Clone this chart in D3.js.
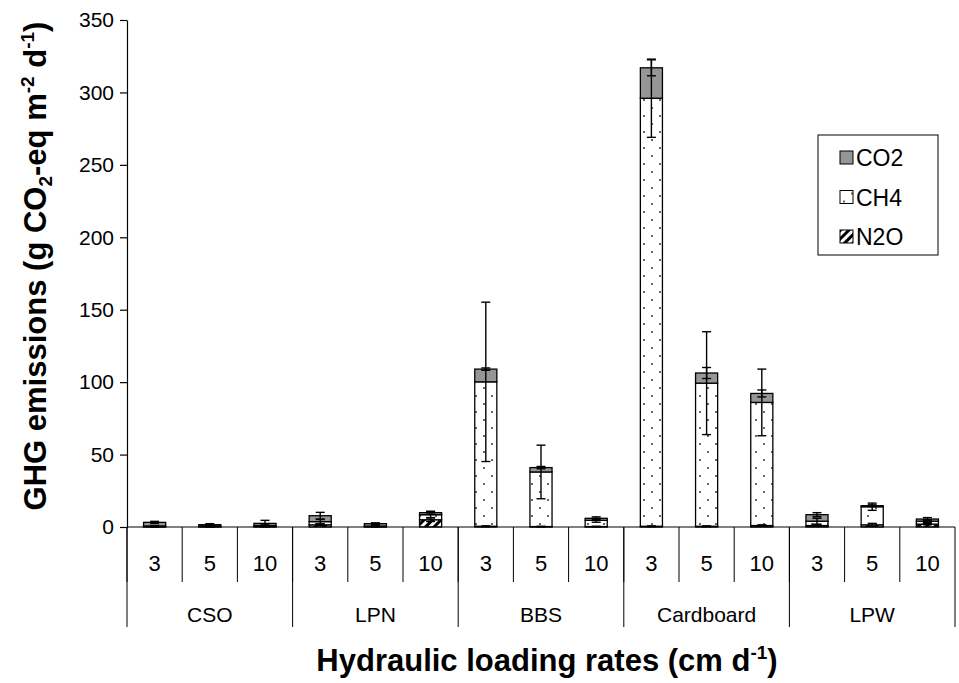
<!DOCTYPE html>
<html>
<head>
<meta charset="utf-8">
<script src="https://cdn.jsdelivr.net/npm/d3@7"></script>
<style>
  body { margin: 0; background: #fff; }
  text { font-family: Arial, "Liberation Sans", sans-serif; fill: #000; }
</style>
</head>
<body>
<script>
// categories
var groups = ["CSO", "LPN", "BBS", "Cardboard", "LPW"];
var rates = ["3", "5", "10"];

// stacked values, one per bar (group x rate), bottom to top: N2O, CH4, CO2
var n2o = [0.2, 0.2, 0.3, 1.5, 0.2, 5.0, 0.5, 0.3, 0.3, 0.5, 0.5, 1.0, 1.0, 1.5, 2.0];
var ch4 = [0.5, 0.4, 0.7, 2.2, 0.4, 3.5, 99.7, 37.7, 4.3, 295.5, 98.8, 85.0, 3.0, 12.5, 2.0];
var co2 = [2.5, 1.0, 1.5, 4.1, 1.7, 1.4, 8.8, 3.0, 1.4, 21.0, 7.0, 6.2, 4.5, 0.7, 1.5];

// error bars (sd) drawn at each segment top
var n2oErr = [0.1, 0.1, 0.2, 0.5, 0.1, 1.2, 0.3, 0.2, 0.2, 0.3, 0.3, 0.5, 0.4, 1.0, 0.5];
var ch4Err = [0.3, 0.2, 0.5, 1.5, 0.2, 2.0, 55.0, 18.5, 1.3, 27.0, 35.5, 23.0, 2.0, 2.5, 1.0];
var co2Err = [0.7, 0.7, 2.1, 2.3, 0.6, 1.0, 0.8, 0.8, 1.0, 5.5, 3.8, 2.4, 1.4, 0.6, 1.0];

var yTicks = [0, 50, 100, 150, 200, 250, 300, 350];
var seriesNames = ["CO2", "CH4", "N2O"];

function main() {
    var width = 959;
    var height = 683;
    var m = { left: 127, right: 955, top: 20, bottom: 527 };

    var svg = d3.select("body").append("svg")
        .attr("width", width)
        .attr("height", height);

    // patterns
    var defs = svg.append("defs");
    var dots = defs.append("pattern").attr("id", "dots")
        .attr("patternUnits", "userSpaceOnUse")
        .attr("width", 16).attr("height", 16);
    dots.append("rect").attr("width", 16).attr("height", 16).attr("fill", "#fff");
    dots.append("circle").attr("cx", 4).attr("cy", 4).attr("r", 1.1).attr("fill", "#444");
    dots.append("circle").attr("cx", 12).attr("cy", 12).attr("r", 1.1).attr("fill", "#444");

    var hatch = defs.append("pattern").attr("id", "hatch")
        .attr("patternUnits", "userSpaceOnUse")
        .attr("width", 6).attr("height", 6)
        .attr("patternTransform", "rotate(45)");
    hatch.append("rect").attr("width", 6).attr("height", 6).attr("fill", "#fff");
    hatch.append("rect").attr("width", 3).attr("height", 6).attr("fill", "#000");

    var fills = { CO2: "#969696", CH4: "url(#dots)", N2O: "url(#hatch)" };

    // rows
    var ids = [];
    groups.forEach(function (g) { rates.forEach(function (r) { ids.push(g + "|" + r); }); });
    var rows = ids.map(function (id, i) {
        var a = n2o[i], b = a + ch4[i], c = b + co2[i];
        return {
            id: id, rate: id.split("|")[1],
            segs: [
                { key: "N2O", y0: 0, y1: a, err: n2oErr[i] },
                { key: "CH4", y0: a, y1: b, err: ch4Err[i] },
                { key: "CO2", y0: b, y1: c, err: co2Err[i] }
            ]
        };
    });

    var x = d3.scaleBand().domain(ids).range([m.left, m.right]).padding(0);
    var gx = d3.scaleBand().domain(groups).range([m.left, m.right]).padding(0);
    var y = d3.scaleLinear().domain([0, 350]).range([m.bottom, m.top]);
    var bw = x.bandwidth() * 0.4;

    // bars
    var bar = svg.selectAll("g.bar").data(rows).enter().append("g").attr("class", "bar");
    bar.selectAll("rect").data(function (d) { return d.segs.map(function (s) { s.id = d.id; return s; }); })
        .enter().append("rect")
        .attr("x", function (s) { return x(s.id) + (x.bandwidth() - bw) / 2; })
        .attr("y", function (s) { return y(s.y1); })
        .attr("width", bw)
        .attr("height", function (s) { return y(s.y0) - y(s.y1); })
        .attr("fill", function (s) { return fills[s.key]; })
        .attr("stroke", "#000")
        .attr("stroke-width", 1.3);

    // error bars
    var eb = bar.selectAll("g.err").data(function (d) { return d.segs; })
        .enter().append("g").attr("class", "err")
        .attr("stroke", "#000").attr("stroke-width", 1.4);
    var cx = function (s) { return x(s.id) + x.bandwidth() / 2; };
    eb.append("line")
        .attr("x1", cx).attr("x2", cx)
        .attr("y1", function (s) { return y(s.y1 + s.err); })
        .attr("y2", function (s) { return y(Math.max(0, s.y1 - s.err)); });
    [1, -1].forEach(function (sgn) {
        eb.append("line")
            .attr("x1", function (s) { return cx(s) - 4.5; })
            .attr("x2", function (s) { return cx(s) + 4.5; })
            .attr("y1", function (s) { return y(Math.max(0, s.y1 + sgn * s.err)); })
            .attr("y2", function (s) { return y(Math.max(0, s.y1 + sgn * s.err)); });
    });

    // y axis
    var yAxis = svg.append("g")
        .attr("transform", "translate(" + m.left + ",0)")
        .call(d3.axisLeft(y).tickValues(yTicks).tickSize(7).tickSizeOuter(0).tickPadding(6));
    yAxis.selectAll("path, line").attr("stroke", "#000").attr("stroke-width", 1.2);
    yAxis.selectAll("text").attr("font-size", 21).attr("font-family", "Arial, 'Liberation Sans', sans-serif");

    // x axis: baseline, rate dividers, group dividers
    svg.append("line").attr("x1", m.left).attr("x2", m.right)
        .attr("y1", m.bottom).attr("y2", m.bottom)
        .attr("stroke", "#000").attr("stroke-width", 1.2);

    svg.selectAll("line.rdiv").data(ids).enter().append("line").attr("class", "rdiv")
        .attr("x1", function (d) { return x(d); }).attr("x2", function (d) { return x(d); })
        .attr("y1", m.bottom).attr("y2", 582)
        .attr("stroke", "#000").attr("stroke-width", 1);

    svg.selectAll("line.gdiv").data(groups.concat(["end"])).enter().append("line").attr("class", "gdiv")
        .attr("x1", function (d) { return d === "end" ? m.right : gx(d); })
        .attr("x2", function (d) { return d === "end" ? m.right : gx(d); })
        .attr("y1", m.bottom).attr("y2", 627)
        .attr("stroke", "#000").attr("stroke-width", 1);

    svg.selectAll("text.rate").data(rows).enter().append("text").attr("class", "rate")
        .attr("x", function (d) { return x(d.id) + x.bandwidth() / 2; })
        .attr("y", 571)
        .attr("text-anchor", "middle").attr("font-size", 22)
        .text(function (d) { return d.rate; });

    svg.selectAll("text.grp").data(groups).enter().append("text").attr("class", "grp")
        .attr("x", function (d) { return gx(d) + gx.bandwidth() / 2; })
        .attr("y", 622)
        .attr("text-anchor", "middle").attr("font-size", 21)
        .text(function (d) { return d; });

    // axis titles
    var xt = svg.append("text")
        .attr("x", (m.left + m.right) / 2 + 6).attr("y", 671)
        .attr("text-anchor", "middle").attr("font-size", 31).attr("font-weight", "bold");
    xt.append("tspan").text("Hydraulic loading rates (cm d");
    xt.append("tspan").attr("font-size", 19).attr("dy", -12).text("-1");
    xt.append("tspan").attr("dy", 12).text(")");

    var yt = svg.append("text")
        .attr("transform", "translate(46,266) rotate(-90)")
        .attr("text-anchor", "middle").attr("font-size", 31).attr("font-weight", "bold");
    yt.append("tspan").text("GHG emissions (g CO");
    yt.append("tspan").attr("font-size", 19).attr("dy", 6).text("2");
    yt.append("tspan").attr("dy", -6).text("-eq m");
    yt.append("tspan").attr("font-size", 19).attr("dy", -12).text("-2");
    yt.append("tspan").attr("dy", 12).text(" d");
    yt.append("tspan").attr("font-size", 19).attr("dy", -12).text("-1");
    yt.append("tspan").attr("dy", 12).text(")");

    // legend
    var lg = svg.append("g");
    lg.append("rect").attr("x", 818).attr("y", 135).attr("width", 120).attr("height", 120)
        .attr("fill", "#fff").attr("stroke", "#000").attr("stroke-width", 1);
    var item = lg.selectAll("g.item").data(seriesNames).enter().append("g").attr("class", "item")
        .attr("transform", function (d, i) { return "translate(840," + (158 + i * 39.5) + ")"; });
    item.append("rect").attr("x", 0).attr("y", -7).attr("width", 13).attr("height", 13)
        .attr("fill", function (d) { return fills[d]; })
        .attr("stroke", "#000").attr("stroke-width", 1);
    item.append("text").attr("x", 16).attr("y", 8).attr("font-size", 23)
        .text(function (d) { return d; });
}

main();
</script>
</body>
</html>
